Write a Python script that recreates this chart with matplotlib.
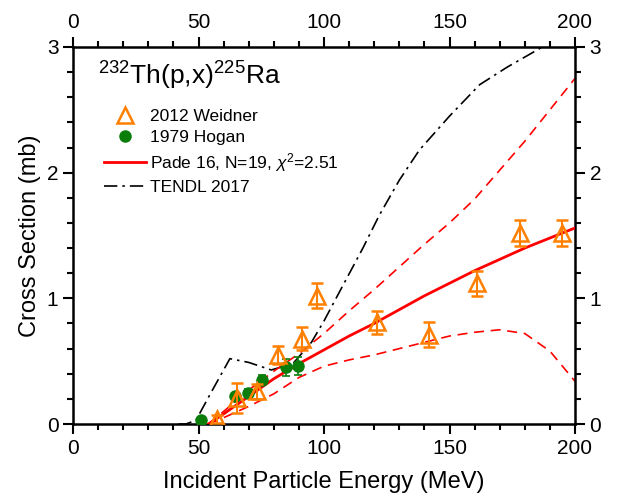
import matplotlib
matplotlib.use("Agg")
import matplotlib.pyplot as plt
from matplotlib.ticker import MultipleLocator
from matplotlib.lines import Line2D

plt.rcParams['font.family'] = ['Liberation Sans', 'DejaVu Sans']
plt.rcParams['mathtext.fontset'] = 'custom'
plt.rcParams['mathtext.rm'] = 'Liberation Sans'
plt.rcParams['mathtext.it'] = 'Liberation Sans:italic'

# Weidner 2012 data
w_E = [57.4, 65.3, 73.3, 81.7, 91.2, 97.2, 121.0, 141.8, 161.0, 178.0, 195.0]
w_y = [0.04, 0.21, 0.26, 0.55, 0.68, 1.02, 0.81, 0.71, 1.12, 1.52, 1.52]
w_err = [0.03, 0.12, 0.06, 0.07, 0.09, 0.10, 0.09, 0.10, 0.10, 0.10, 0.10]

# Hogan 1979 data
h_E = [51.0, 64.5, 69.8, 75.4, 85.0, 89.7]
h_y = [0.03, 0.22, 0.25, 0.35, 0.45, 0.46]
h_err = [0.02, 0.03, 0.03, 0.04, 0.07, 0.07]

# Pade fit and uncertainty band
fit_E = [54, 60, 70, 80, 90, 100, 110, 120, 130, 140, 150, 160, 170, 180, 190, 200]
fit_y = [0.0, 0.08, 0.22, 0.36, 0.48, 0.59, 0.70, 0.80, 0.91, 1.02, 1.12, 1.22, 1.31, 1.40, 1.48, 1.56]
up_y = [0.0, 0.10, 0.27, 0.42, 0.56, 0.72, 0.90, 1.07, 1.25, 1.43, 1.60, 1.79, 2.02, 2.25, 2.50, 2.75]
lo_y = [0.0, 0.05, 0.14, 0.24, 0.37, 0.46, 0.51, 0.55, 0.60, 0.65, 0.70, 0.73, 0.75, 0.72, 0.58, 0.34]

# TENDL 2017
t_E = [42, 45, 49, 55, 62.5, 70, 79, 87.6, 95, 100, 108, 115.5, 122, 130, 138, 150, 162, 173, 187, 200]
t_y = [0, 0.0, 0.03, 0.25, 0.52, 0.49, 0.43, 0.48, 0.65, 0.82, 1.12, 1.40, 1.66, 1.94, 2.18, 2.45, 2.70, 2.84, 3.0, 3.15]

fig = plt.figure(figsize=(6.17, 4.96), dpi=100)
ax = fig.add_axes([73/617, 1-424/496, (575-73)/617, (424-47)/496])

orange = '#ff8000'
green = '#0a7d0a'
red = '#ff0000'

ax.plot(t_E, t_y, color='black', lw=1.2, ls=(0, (8, 3, 1.5, 3)), zorder=2)
ax.plot(fit_E, up_y, color=red, lw=1.2, ls=(0, (6, 4)), zorder=2)
ax.plot(fit_E, lo_y, color=red, lw=1.2, ls=(0, (6, 4)), zorder=2)
ax.plot(fit_E, fit_y, color=red, lw=2.0, zorder=3)

ax.errorbar(h_E, h_y, yerr=h_err, fmt='o', color=green, ms=8, capsize=3, elinewidth=1.2,
            capthick=1.2, zorder=4)
ax.errorbar(w_E, w_y, yerr=w_err, fmt='^', color=orange, mfc='none', mec=orange, ms=11,
            mew=1.8, capsize=4, elinewidth=1.5, capthick=1.5, zorder=5)

ax.set_xlim(0, 200)
ax.set_ylim(0, 3)
ax.xaxis.set_major_locator(MultipleLocator(50))
ax.xaxis.set_minor_locator(MultipleLocator(10))
ax.yaxis.set_major_locator(MultipleLocator(1))
ax.yaxis.set_minor_locator(MultipleLocator(0.2))
ax.tick_params(which='both', direction='out', top=True, right=True,
               labeltop=True, labelright=True, width=1.5, labelsize=15)
ax.tick_params(which='major', length=7)
ax.tick_params(which='minor', length=4)
for s in ax.spines.values():
    s.set_linewidth(1.8)

ax.set_xlabel('Incident Particle Energy (MeV)', fontsize=17, labelpad=10)
ax.set_ylabel('Cross Section (mb)', fontsize=17)

ax.text(0.05, 0.965, r'$^{232}$Th(p,x)$^{225}$Ra', transform=ax.transAxes,
        fontsize=19, va='top', ha='left')

handles = [
    Line2D([], [], ls='none', marker='^', ms=11, mfc='none', mec=orange, mew=1.8),
    Line2D([], [], ls='none', marker='o', ms=8, color=green),
    Line2D([], [], color=red, lw=2.0),
    Line2D([], [], color='black', lw=1.2, ls=(0, (8, 3, 1.5, 3))),
]
labels = ['2012 Weidner', '1979 Hogan', r'Pade 16, N=19, $\chi^2$=2.51', 'TENDL 2017']
ax.legend(handles, labels, loc='upper left', bbox_to_anchor=(0.048, 0.855), frameon=False,
          fontsize=12.5, handlelength=2.4, handletextpad=0.25,
          labelspacing=0.35, borderaxespad=0)

fig.savefig('out.png', dpi=100)
